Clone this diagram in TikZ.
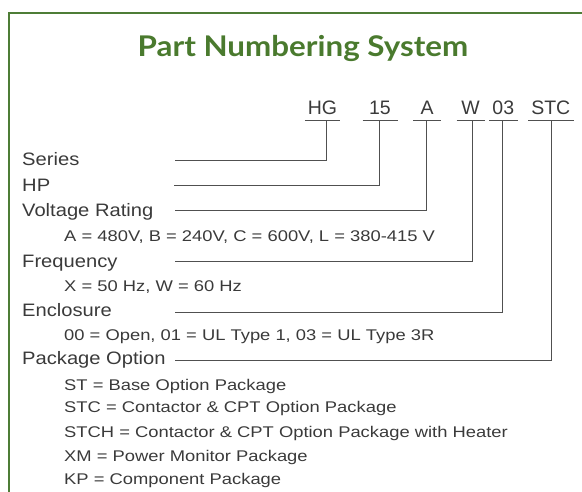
\documentclass[tikz,border=0pt]{standalone}
\usepackage{fontspec}
\newfontfamily\labfont{Liberation Sans}[FakeStretch=1.12]
\newfontfamily\subfont{Liberation Sans}[FakeStretch=1.185]
\newfontfamily\codefont{Liberation Sans}
\newfontfamily\titlefont{Lato}[FakeStretch=1.1]
\definecolor{framegreen}{HTML}{4E7D36}
\definecolor{titlegreen}{HTML}{4A7A2E}
\definecolor{txt}{HTML}{3A3A3A}
\definecolor{ln}{HTML}{505050}
\tikzset{
  lab/.style={anchor=base west, inner sep=0pt, text=txt, font=\labfont\fontsize{18}{20}\selectfont},
  sub/.style={anchor=base west, inner sep=0pt, text=txt, font=\subfont\fontsize{15.5}{18}\selectfont},
  code/.style={anchor=south, inner xsep=0pt, inner ysep=6pt, text depth=0pt, text=txt, font=\codefont\fontsize{19.5}{22}\selectfont},
  conn/.style={draw=ln, line width=1pt},
  uline/.style={draw=ln, line width=1pt}
}
\begin{document}
\begin{tikzpicture}[x=1pt,y=-1pt]
\useasboundingbox (0,0) rectangle (582,492);
% frame
\draw[framegreen, line width=2pt] (9,493) -- (9,13) -- (583,13);
% title
\node[anchor=base, inner sep=0pt, text=titlegreen, font=\titlefont\bfseries\fontsize{28.5}{30}\selectfont] (title) at (303,57) {Part Numbering System};
% code letters
\node[code, minimum width=35pt] (hg) at (322.5,121) {HG};
\node[code, minimum width=34.6pt] (c15) at (380,121) {15};
\node[code, minimum width=27.7pt] (ca) at (427.2,121) {A};
\node[code, minimum width=27.6pt] (cw) at (470.5,121) {W};
\node[code, minimum width=28pt] (c03) at (503.3,121) {03};
\node[code, minimum width=45pt] (stc) at (550.8,121) {STC};
\foreach \n in {hg,c15,ca,cw,c03,stc}{\draw[uline] (\n.south west) -- (\n.south east);}
% labels
\node[lab] (series) at (22,166) {Series};
\node[lab] (hp) at (22,191.5) {HP};
\node[lab] (volt) at (22,216.5) {Voltage Rating};
\node[sub] (voltopt) at (64,241.5) {A = 480V, B = 240V, C = 600V, L = 380-415 V};
\node[lab] (freq) at (22,267.5) {Frequency};
\node[sub] (freqopt) at (64,291.5) {X = 50 Hz, W = 60 Hz};
\node[lab] (encl) at (22,316.5) {Enclosure};
\node[sub] (enclopt) at (64,340.5) {00 = Open, 01 = UL Type 1, 03 = UL Type 3R};
\node[lab] (pkg) at (22,365) {Package Option};
\node[sub] (p1) at (64,390) {ST = Base Option Package};
\node[sub] (p2) at (64,412.5) {STC = Contactor \& CPT Option Package};
\node[sub] (p3) at (64,437.5) {STCH = Contactor \& CPT Option Package with Heater};
\node[sub] (p4) at (64,461) {XM = Power Monitor Package};
\node[sub] (p5) at (64,484.5) {KP = Component Package};
% connectors
\coordinate (s1) at (175,161);
\coordinate (s2) at (174,186);
\coordinate (s3) at (175,211);
\coordinate (s4) at (175,262);
\coordinate (s5) at (175,313);
\coordinate (s6) at (175,361);
\draw[conn] (s1) -| ([xshift=3.5pt]hg.south);
\draw[conn] (s2) -| ([xshift=-0.7pt]c15.south);
\draw[conn] (s3) -| ([xshift=-0.5pt]ca.south);
\draw[conn] (s4) -| ([xshift=1.8pt]cw.south);
\draw[conn] (s5) -| ([xshift=-0.6pt]c03.south);
\draw[conn] (s6) -| ([xshift=0.7pt]stc.south);
\end{tikzpicture}
\end{document}
